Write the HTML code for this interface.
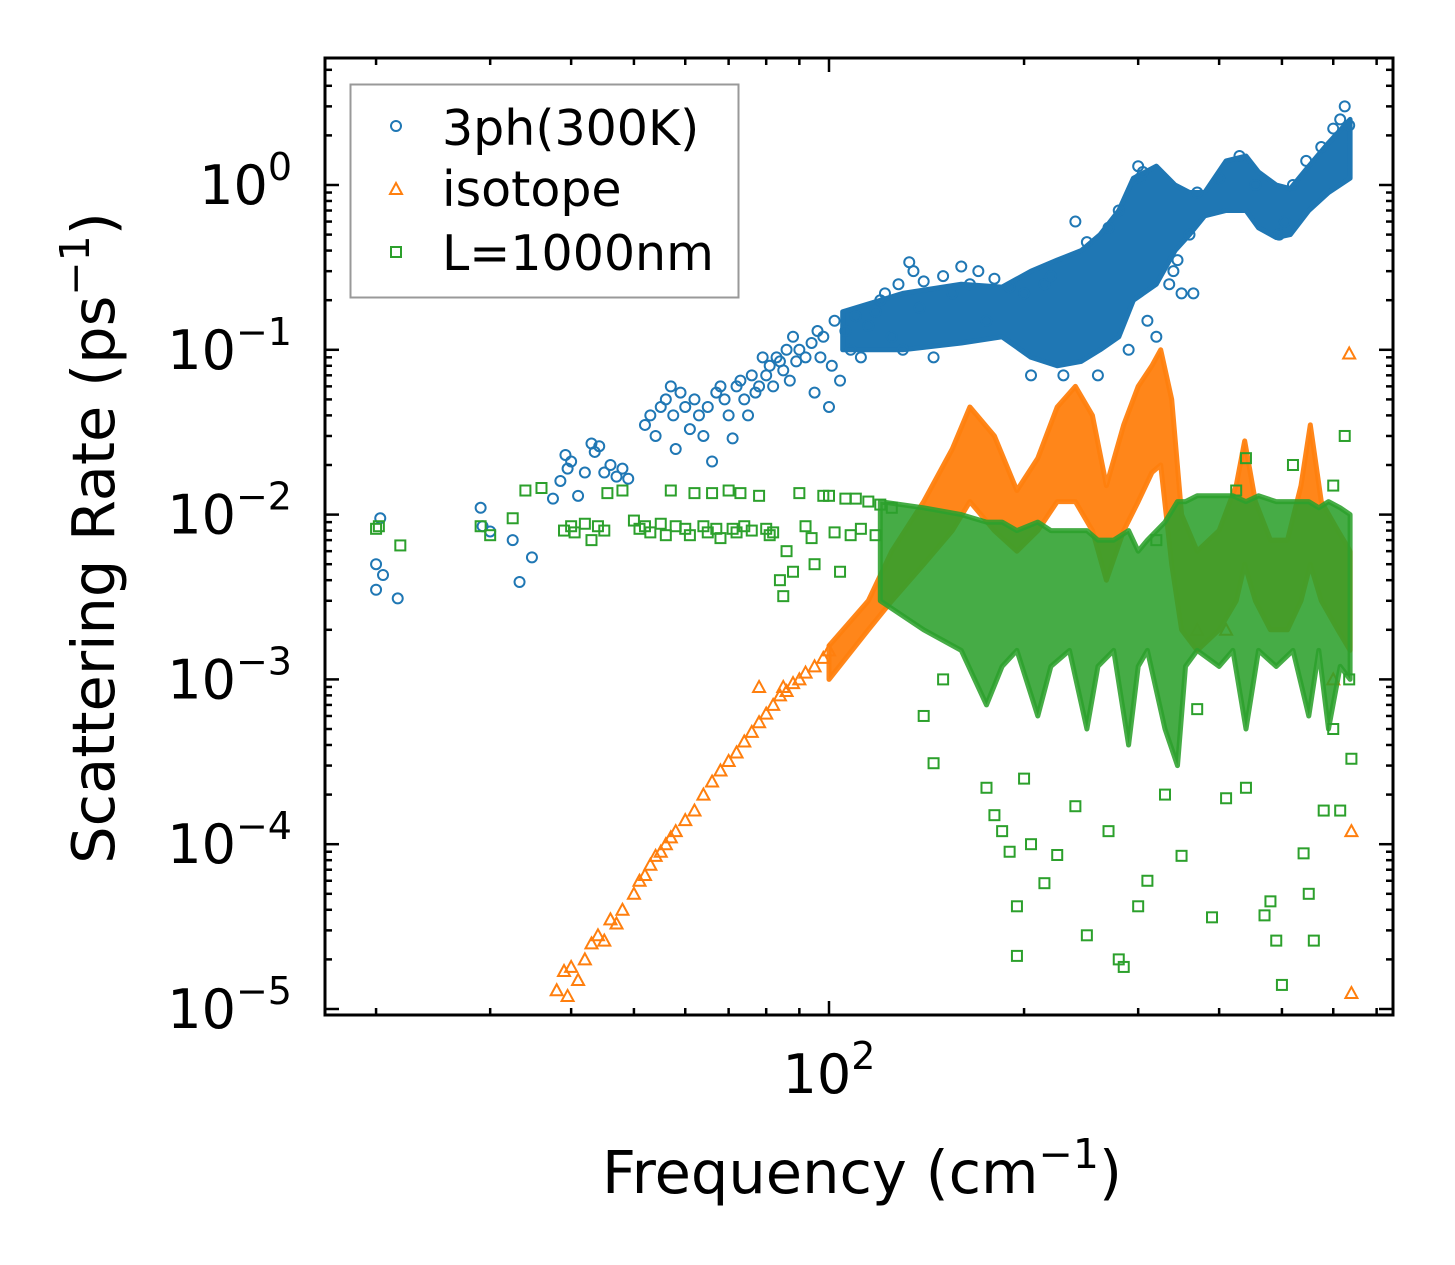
<!DOCTYPE html>
<html><head><meta charset="utf-8">
<style>
html,body{margin:0;padding:0;background:#fff;}
svg{display:block;font-family:"DejaVu Sans","Liberation Sans",sans-serif;}
</style></head>
<body>
<svg id="chart" width="1455" height="1265" viewBox="0 0 1455 1265" xmlns="http://www.w3.org/2000/svg">
<rect width="1455" height="1265" fill="#fff"/>
<g id="marks"></g>
<g id="axes"></g>
<g id="legend">
  <rect x="350.5" y="84.5" width="388" height="213" fill="#fff" fill-opacity="0.85" stroke="#999" stroke-width="2"/>
  <circle cx="396" cy="126" r="5" fill="none" stroke="#1f77b4" stroke-width="2"/>
  <text x="442" y="145" font-size="49">3ph(300K)</text>
  <path d="M396,183 L402,194 L390,194 Z" fill="none" stroke="#ff7f0e" stroke-width="2"/>
  <text x="442" y="206" font-size="49">isotope</text>
  <rect x="391" y="247" width="10" height="10" fill="none" stroke="#2ca02c" stroke-width="2"/>
  <text x="442" y="270" font-size="49">L=1000nm</text>
</g>
<text x="862" y="1193" font-size="59" text-anchor="middle">Frequency (cm<tspan font-size="41" dy="-25">−1</tspan><tspan dy="25">)</tspan></text>
<text transform="translate(114,538) rotate(-90)" font-size="59" text-anchor="middle">Scattering Rate (ps<tspan font-size="41" dy="-25">−1</tspan><tspan dy="25">)</tspan></text>
</svg>
<script>
// ---- data ----
const bluePoints = [[20,.0035],[20,.005],[20.3,.0095],[20.5,.0043],[21.6,.0031],[29,.011],[29.2,.0085],[30,.0079],[32.5,.007],[33.3,.0039],[34.8,.0055],[37.5,.0125],[38.5,.016],[39.2,.023],[39.5,.019],[40,.021],[41,.013],[42,.018],[43,.027],[43.5,.024],[44.2,.026],[45,.018],[46,.02],[47,.017],[48,.019],[49,.0165],
[52,.035],[53,.04],[54,.03],[55,.045],[56,.05],[57,.06],[57.5,.04],[58,.025],[59,.055],[60,.045],[61,.033],[62,.05],[63,.04],[64,.03],[65,.045],[66,.021],[67,.055],[68,.06],[69,.05],[70,.04],[71,.029],[72,.06],[73,.065],[74,.05],[75,.04],[76,.07],[77,.055],[78,.06],[79,.09],[80,.07],[81,.08],[82,.06],[83,.09],[84,.085],[85,.075],[86,.1],[87,.065],[88,.12],[89,.085],[90,.1],[92,.09],[94,.11],[95,.055],[96,.13],[97,.09],[98,.12],[100,.045],[101,.08],[102,.15],[104,.065],[106,.13],[108,.1],[110,.16],[112,.09],[115,.14],[118,.17],[120,.2],[122,.22],[125,.12],[128,.25],[130,.1],[133,.34],[135,.3],[138,.18],[140,.26],[145,.09],[150,.28],[155,.22],[160,.32],[165,.25],[170,.3],[175,.15],[180,.27],[190,.24],[200,.22],[205,.07],[215,.25],[220,.28],[230,.07],[240,.6],[250,.45],[260,.07],[270,.55],[280,.7],[290,.1],[300,1.3],[302,1.1],[305,1.2],[310,.15],[320,.12],[335,.25],[340,.3],[345,.35],[350,.22],[360,.5],[365,.22],[370,.9],[400,1.1],[430,1.5],[455,1.0],[495,.5],[505,.6],[520,1.0],[545,1.4],[575,1.7],[600,2.2],[615,2.5],[625,3.0],[635,2.3]];
const blueBandFreq = [105,130,160,185,205,225,245,262,280,295,320,342,360,380,410,440,460,490,515,550,590,637];
const blueBandLo   = [.1,.1,.11,.12,.09,.08,.085,.1,.12,.2,.25,.4,.5,.65,.7,.7,.55,.48,.5,.7,.9,1.1];
const blueBandHi   = [.17,.22,.25,.24,.3,.35,.4,.5,.7,1.1,1.3,1.0,.9,.9,1.4,1.5,1.2,1.0,.95,1.3,1.8,2.5];

const orangePoints = [[38,1.3e-5],[39,1.7e-5],[39.5,1.2e-5],[40,1.8e-5],[41,1.5e-5],[42,2e-5],[43,2.5e-5],[44,2.8e-5],[45,2.6e-5],[46,3.5e-5],[47,3.3e-5],[48,4e-5],[50,5e-5],[51,6e-5],[52,6.5e-5],[53,7.5e-5],[54,8.5e-5],[55,9e-5],[56,1e-4],[57,1.1e-4],[58,1.2e-4],[60,1.4e-4],[62,1.6e-4],[64,2e-4],[66,2.4e-4],[68,2.8e-4],[70,3.2e-4],[72,3.6e-4],[74,4.2e-4],[76,4.8e-4],[78,5.5e-4],[80,6.2e-4],[82,7e-4],[84,8e-4],[86,8.5e-4],[88,9.5e-4],[90,1e-3],[92,1.1e-3],[95,1.2e-3],[98,1.35e-3],[100,1.5e-3],[78,9e-4],[85,9e-4],[635,.095],[640,1.2e-4],[640,1.25e-5],[600,1e-3],[370,2e-3],[410,.002]];
const orangeBandFreq = [100,115,125,140,155,165,180,195,210,225,240,255,268,285,300,315,325,338,350,370,400,425,438,455,480,510,535,553,575,610,637];
const orangeBandLo   = [1e-3,2e-3,3e-3,5e-3,.008,.012,.008,.006,.008,.012,.012,.008,.004,.008,.012,.018,.02,.005,.002,.0015,.002,.003,.005,.003,.002,.002,.003,.005,.003,.002,.0015];
const orangeBandHi   = [1.6e-3,3e-3,6e-3,.012,.025,.045,.03,.014,.022,.045,.06,.04,.015,.035,.06,.08,.1,.05,.01,.006,.008,.015,.028,.012,.007,.007,.015,.035,.012,.008,.006];

const greenPoints = [[20,.0082],[20.2,.0085],[21.8,.0065],[29,.0085],[30,.0075],[32.5,.0095],[34,.014],[36,.0145],[39,.008],[40,.0085],[40.5,.0078],[42,.0088],[43,.007],[44,.0085],[45,.008],[45.5,.0135],[48,.014],[50,.0092],[51,.0082],[52,.0085],[53,.0078],[55,.0088],[56,.0075],[57,.014],[58,.0085],[60,.0082],[61,.0075],[62,.0135],[64,.0085],[65,.0078],[66,.0135],[67,.0082],[68,.0072],[70,.014],[71,.0082],[72,.0078],[73,.0135],[74,.0085],[76,.008],[78,.013],[80,.0082],[81,.0075],[82,.0078],[84,.004],[85,.0032],[86,.006],[88,.0045],[90,.0135],[92,.0085],[94,.0072],[95,.005],[98,.013],[100,.013],[102,.0078],[104,.0045],[106,.0125],[108,.0075],[110,.0125],[112,.0082],[115,.012],[118,.0075],[120,.0115],[125,.011],
[140,6e-4],[145,3.1e-4],[150,1e-3],[175,2.2e-4],[180,1.5e-4],[185,1.2e-4],[190,9e-5],[195,4.2e-5],[195,2.1e-5],[200,2.5e-4],[205,1e-4],[215,5.8e-5],[225,8.6e-5],[240,1.7e-4],[250,2.8e-5],[270,1.2e-4],[280,2e-5],[285,1.8e-5],[300,4.2e-5],[310,6e-5],[330,2e-4],[350,8.5e-5],[370,6.6e-4],[390,3.6e-5],[410,1.9e-4],[440,2.2e-4],[470,3.7e-5],[480,4.5e-5],[490,2.6e-5],[500,1.4e-5],[540,8.8e-5],[550,5e-5],[560,2.6e-5],[580,1.6e-4],[600,5e-4],[615,1.6e-4],[625,.03],[600,.015],[520,.02],[440,.022],[425,.014],[320,.007],[635,1e-3],[640,3.3e-4]];
const greenBandFreq = [120,140,160,175,185,195,210,220,235,250,260,275,290,300,310,330,345,355,370,400,420,440,460,490,520,550,570,590,615,637];
const greenBandLo   = [.003,.002,.0015,.0007,.0012,.0015,.0006,.0012,.0015,.0005,.0012,.0015,.0004,.0012,.0015,.0005,.0003,.0012,.0015,.0012,.0015,.0005,.0015,.0012,.0015,.0006,.0015,.0005,.0012,.001];
const greenBandHi   = [.012,.011,.01,.009,.009,.008,.009,.008,.008,.008,.007,.007,.008,.006,.007,.009,.012,.012,.013,.013,.013,.012,.013,.012,.012,.012,.011,.012,.011,.01];

const yTickExps = [0,-1,-2,-3,-4,-5];
const xTickExps = [2];

// ---- axes functions ----
const X0=325, X1=1393, Y0=58, Y1=1015;
function xs(f){return 829+648*Math.log10(f/100);}
function ys(r){return 185-164.8*Math.log10(r);}
const NS="http://www.w3.org/2000/svg";
const marks=document.getElementById('marks');
const axes=document.getElementById('axes');
function mk(tag,attrs,parent){const e=document.createElementNS(NS,tag);for(const k in attrs)e.setAttribute(k,attrs[k]);parent.appendChild(e);return e;}

function band(freq,lo,hi,color,name,op){
  let d='';
  for(let i=0;i<freq.length;i++)d+=(i?'L':'M')+xs(freq[i]).toFixed(1)+','+ys(hi[i]).toFixed(1);
  for(let i=freq.length-1;i>=0;i--)d+='L'+xs(freq[i]).toFixed(1)+','+ys(lo[i]).toFixed(1);
  const p=mk('path',{d:d+'Z',fill:color,'fill-opacity':op,stroke:color,'stroke-width':5,'stroke-opacity':op,'stroke-linejoin':'round'},marks);
  
  
}
function circles(pts,color,name){
  pts.forEach(p=>{const c=mk('circle',{cx:xs(p[0]),cy:ys(p[1]),r:5,fill:'none',stroke:color,'stroke-width':2},marks);
    
    });
}
function tris(pts,color,name){
  pts.forEach(p=>{const x=xs(p[0]),y=ys(p[1]);
    const t=mk('path',{d:`M${x},${y-6}L${x+6},${y+5}L${x-6},${y+5}Z`,fill:'none',stroke:color,'stroke-width':2},marks);
    
    });
}
function squares(pts,color,name){
  pts.forEach(p=>{const x=xs(p[0]),y=ys(p[1]);
    const s=mk('rect',{x:x-5,y:y-5,width:10,height:10,fill:'none',stroke:color,'stroke-width':2},marks);
    
    });
}
band(blueBandFreq,blueBandLo,blueBandHi,'#1f77b4','3ph-dense-band',1);
circles(bluePoints,'#1f77b4','3ph-point');
band(orangeBandFreq,orangeBandLo,orangeBandHi,'#ff7f0e','isotope-dense-band',0.95);
tris(orangePoints,'#ff7f0e','isotope-point');
band(greenBandFreq,greenBandLo,greenBandHi,'#2ca02c','boundary-dense-band',0.88);
squares(greenPoints,'#2ca02c','boundary-point');

// frame
const fr=mk('rect',{x:X0,y:Y0,width:X1-X0,height:Y1-Y0,fill:'none',stroke:'#000','stroke-width':3},axes);


// y ticks
for(let e=-6;e<=1;e++){
  for(let m=1;m<10;m++){
    const y=ys(m*Math.pow(10,e)); if(y<Y0||y>Y1)continue;
    const L=m===1?14:7;
    mk('line',{x1:X0,x2:X0+L,y1:y,y2:y,stroke:'#000','stroke-width':2.5},axes);
    mk('line',{x1:X1,x2:X1-L,y1:y,y2:y,stroke:'#000','stroke-width':2.5},axes);
  }
}
yTickExps.forEach(e=>{
  const t=mk('text',{x:292,y:ys(Math.pow(10,e))+19,'font-size':54,'text-anchor':'end'},axes);
  
  
  t.textContent='10';
  const s=mk('tspan',{'font-size':38,dy:-24},t); s.textContent=e===0?'0':'−'+(-e);
});
// x ticks
for(let e=1;e<=2;e++){
  for(let m=1;m<10;m++){
    const x=xs(m*Math.pow(10,e)); if(x<X0||x>X1)continue;
    const L=m===1?14:7;
    mk('line',{x1:x,x2:x,y1:Y1,y2:Y1-L,stroke:'#000','stroke-width':2.5},axes);
    mk('line',{x1:x,x2:x,y1:Y0,y2:Y0+L,stroke:'#000','stroke-width':2.5},axes);
  }
}
xTickExps.forEach(e=>{
  const t=mk('text',{x:xs(Math.pow(10,e))+0,y:1093,'font-size':54,'text-anchor':'middle'},axes);
  
  
  t.textContent='10';
  const s=mk('tspan',{'font-size':38,dy:-24},t); s.textContent=String(e);
});
</script>
</body></html>
